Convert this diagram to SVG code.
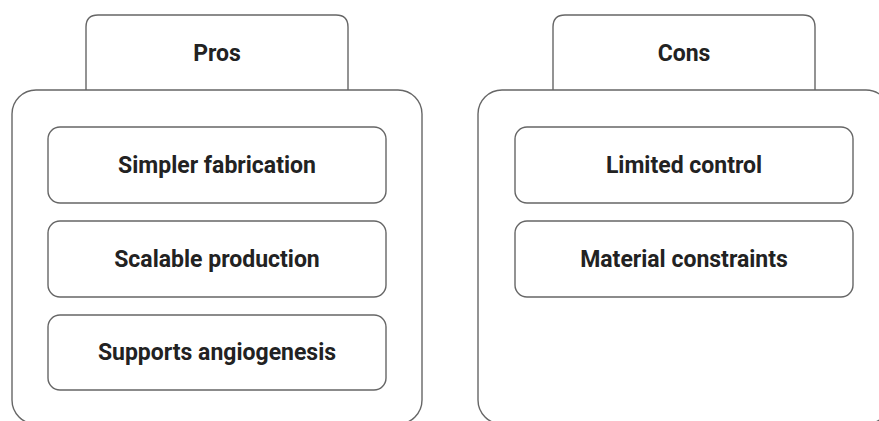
<svg xmlns="http://www.w3.org/2000/svg" width="879" height="421" viewBox="0 0 879 421">
<style>
.box{fill:#fff;stroke:#666;stroke-width:1.4}
.t{font-family:Roboto,"Liberation Sans",sans-serif;font-weight:bold;font-size:23px;fill:#222;text-anchor:middle;dominant-baseline:central}
</style>
<rect width="879" height="421" fill="#fff"/>
<g id="pros">
<path class="box" d="M86,90 V27 Q86,15 98,15 H336 Q348,15 348,27 V90"/>
<rect class="box" x="12" y="90" width="410" height="334" rx="24"/>
<text class="t" x="217" y="53">Pros</text>
</g>
<g id="pros-1"><rect class="box" x="48" y="127" width="338" height="76" rx="12"/><text class="t" x="217" y="165">Simpler fabrication</text></g>
<g id="pros-2"><rect class="box" x="48" y="221" width="338" height="76" rx="12"/><text class="t" x="217" y="259">Scalable production</text></g>
<g id="pros-3"><rect class="box" x="48" y="315" width="338" height="75" rx="12"/><text class="t" x="217" y="352">Supports angiogenesis</text></g>
<g id="cons">
<path class="box" d="M553,90 V27 Q553,15 565,15 H803 Q815,15 815,27 V90"/>
<rect class="box" x="478" y="90" width="412" height="334" rx="24"/>
<text class="t" x="684" y="53">Cons</text>
</g>
<g id="cons-1"><rect class="box" x="515" y="127" width="338" height="76" rx="12"/><text class="t" x="684" y="165">Limited control</text></g>
<g id="cons-2"><rect class="box" x="515" y="221" width="338" height="76" rx="12"/><text class="t" x="684" y="259">Material constraints</text></g>
<g id="connectors"/>
</svg>
